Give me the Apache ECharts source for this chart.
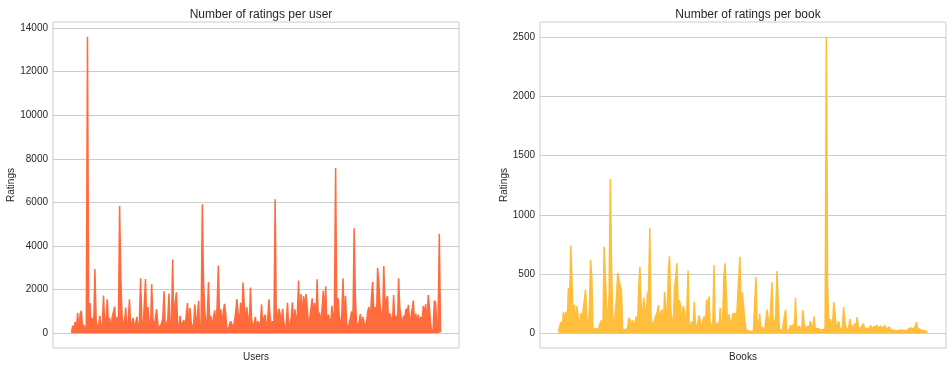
<!DOCTYPE html>
<html><head><meta charset="utf-8">
<script src="https://cdn.jsdelivr.net/npm/echarts@6/dist/echarts.min.js"></script>
<style>html,body{margin:0;padding:0;background:#fff}#c{width:952px;height:369px}</style>
</head><body><div id="c"></div>
<script>
const userRatings = [
20,350,120,520,200,930,160,880,1030,240,
380,150,320,13600,260,1380,180,700,300,2950,
600,220,350,800,40,420,1730,260,650,1550,
300,700,180,720,680,1220,250,750,200,5850,
2550,800,300,550,1180,40,600,1550,240,150,
700,280,450,750,200,500,2520,600,180,250,
2480,300,1200,450,40,2250,650,280,300,1100,
400,220,200,450,700,1920,300,300,600,1820,
250,450,3380,200,1350,1880,500,40,800,300,
450,600,260,250,1380,320,1150,500,180,450,
1320,280,800,1480,40,400,5920,2320,1000,300,
700,2350,320,800,220,700,1050,260,1250,3100,
600,1100,300,1000,1350,900,40,200,150,550,
500,260,520,950,1560,950,380,1400,600,2330,
1300,350,1200,700,250,2100,600,300,450,750,
220,550,400,300,1320,350,700,850,40,650,
1560,700,300,550,300,6150,350,350,1130,900,
280,1120,500,220,400,1400,260,450,700,1420,
300,1100,450,900,2420,400,1800,700,1700,1200,
1800,1200,350,650,700,1600,900,1380,400,2470,
600,950,300,350,1950,900,2150,50,850,650,
400,1260,500,1000,7580,450,1600,700,300,850,
2520,400,1700,400,250,450,700,1000,350,4820,
1700,300,400,500,880,250,750,500,300,500,
1000,1200,400,1650,2350,900,1200,300,3000,2350,
1300,1250,450,3080,1350,1300,1700,300,900,700,
350,1750,500,800,50,2520,1150,1100,350,800,
700,1120,1000,1300,400,400,1100,1500,300,900,
400,850,350,750,500,1250,900,1330,250,1750,
1200,400,50,150,1500,1400,300,500,4560,40
];
const bookRatings = [
20,30,95,25,180,110,180,40,380,280,
740,440,60,240,50,230,120,40,170,110,
195,190,370,100,40,190,620,470,30,30,
40,25,30,25,90,110,30,730,480,240,
60,330,1300,580,140,40,30,300,510,450,
400,370,30,25,30,20,40,130,110,40,
110,40,50,140,60,380,560,240,80,300,
310,130,330,360,890,130,50,90,120,130,
180,240,60,180,200,70,350,340,80,530,
650,180,180,60,390,470,590,200,280,220,
60,230,190,40,200,530,30,60,100,40,
265,70,50,40,150,140,40,110,140,50,
285,200,310,50,80,60,575,40,70,90,
40,215,50,110,480,590,350,60,160,150,
50,160,175,170,60,270,265,645,190,345,
330,100,30,20,20,25,15,20,20,270,
475,60,30,165,30,50,40,20,30,200,
210,40,25,430,30,80,150,525,270,30,
40,25,60,140,200,30,20,20,70,30,
75,30,300,30,25,60,60,30,195,80,
70,30,60,35,100,70,30,140,40,30,
40,50,30,40,30,25,35,2505,440,40,
120,90,40,265,180,40,35,100,40,30,
40,220,100,40,50,40,120,70,40,60,
80,60,135,40,50,45,35,80,40,30,
40,30,45,65,35,50,60,40,70,45,
40,60,50,35,65,50,35,45,55,30,
40,25,20,20,25,20,30,28,20,25,
25,20,30,30,25,45,50,35,45,55,
95,40,25,30,25,20,30,20,15,8
];
const userTicks = [0,2000,4000,6000,8000,10000,12000,14000];
const bookTicks = [0,500,1000,1500,2000,2500];

const txt = '#262626';
const chart = echarts.init(document.getElementById('c'), null, {renderer:'canvas'});
function xAx(idx, name, n){
  const pad = (n-1)*0.05;
  return {type:'value', gridIndex:idx, min:-pad, max:(n-1)+pad,
    name:name, nameLocation:'middle', nameGap:4,
    nameTextStyle:{color:txt, fontSize:10, fontFamily:'Liberation Sans'},
    axisLine:{show:false, onZero:false}, axisTick:{show:false}, axisLabel:{show:false}, splitLine:{show:false}};
}
function yAx(idx, lo, hi, ticks, gap){
  return {type:'value', gridIndex:idx, min:lo, max:hi,
    name:'Ratings', nameLocation:'middle', nameGap:gap, nameRotate:90,
    nameTextStyle:{color:txt, fontSize:10, fontFamily:'Liberation Sans'},
    axisLine:{show:false}, axisTick:{show:false, customValues:ticks},
    axisLabel:{customValues:ticks, color:txt, fontSize:10, margin:5, fontFamily:'Liberation Sans',
      formatter:v=>String(v)},
    splitLine:{show:true, lineStyle:{color:'#cccccc', width:1}}};
}
const uMax = Math.max(...userRatings), bMax = Math.max(...bookRatings);
chart.setOption({
  animation:false,
  backgroundColor:'#ffffff',
  title:[
    {text:'Number of ratings per user', left:256, top:4, textAlign:'center',
     textStyle:{color:txt, fontSize:12, fontWeight:'normal', fontFamily:'Liberation Sans'}},
    {text:'Number of ratings per book', left:743, top:4, textAlign:'center',
     textStyle:{color:txt, fontSize:12, fontWeight:'normal', fontFamily:'Liberation Sans'}}
  ],
  grid:[
    {left:53, top:22, width:406, height:326, show:true, borderColor:'#cccccc', borderWidth:1, containLabel:false},
    {left:540, top:22, width:406, height:326, show:true, borderColor:'#cccccc', borderWidth:1, containLabel:false}
  ],
  xAxis:[xAx(0,'Users',userRatings.length), xAx(1,'Books',bookRatings.length)],
  yAxis:[yAx(0,-0.05*uMax, uMax*1.05, userTicks, 37), yAx(1,-0.05*bMax, bMax*1.05, bookTicks, 31)],
  series:[
    {type:'line', xAxisIndex:0, yAxisIndex:0, showSymbol:false, symbol:'none',
     data:userRatings.map((v,i)=>[i,v]), lineStyle:{color:'#ff6b3d', width:1.5},
     areaStyle:{color:'#ff6b3d', opacity:1}, itemStyle:{color:'#ff6b3d'}},
    {type:'line', xAxisIndex:1, yAxisIndex:1, showSymbol:false, symbol:'none',
     data:bookRatings.map((v,i)=>[i,v]), lineStyle:{color:'#ffbe3b', width:1.5},
     areaStyle:{color:'#ffbe3b', opacity:1}, itemStyle:{color:'#ffbe3b'}}
  ]
});
</script>
</body></html>
